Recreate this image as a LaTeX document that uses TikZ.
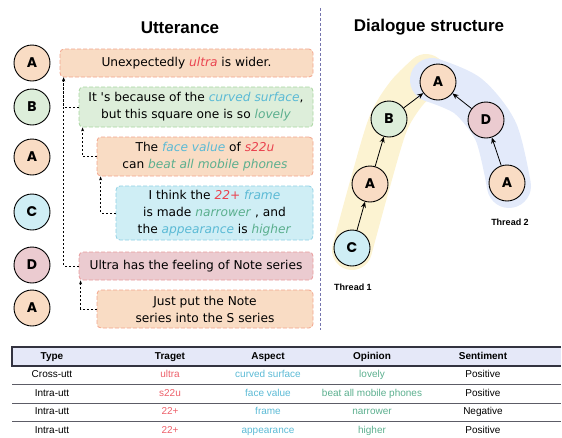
\documentclass[tikz,border=0pt]{standalone}
\usepackage{fontspec}
\setmainfont{Liberation Sans}
\newfontfamily\uttfont{DejaVu Sans}
\newfontfamily\spkfont{Poppins}
\usetikzlibrary{positioning,arrows.meta}
\definecolor{peach}{HTML}{F9DCC4}
\definecolor{peachline}{HTML}{F2A48C}
\definecolor{mint}{HTML}{DDEEDA}
\definecolor{mintline}{HTML}{A8D6A0}
\definecolor{sky}{HTML}{CFEEF5}
\definecolor{skyline}{HTML}{8FD0E4}
\definecolor{rose}{HTML}{EBCBD0}
\definecolor{roseline}{HTML}{E99C9C}
\definecolor{tgtred}{HTML}{EA4450}
\definecolor{aspblue}{HTML}{5BBAD5}
\definecolor{opngreen}{HTML}{5BAF8E}
\definecolor{divline}{HTML}{7474AE}
\definecolor{yband}{HTML}{FCF3D2}
\definecolor{bband}{HTML}{E3EAFA}
\definecolor{hdr}{HTML}{E5E8F8}
\definecolor{tabline}{HTML}{333340}
\newcommand{\tgtword}[1]{\textcolor{tgtred}{\textit{#1}}}
\newcommand{\aspword}[1]{\textcolor{aspblue}{\textit{#1}}}
\newcommand{\opnword}[1]{\textcolor{opngreen}{\textit{#1}}}
\begin{document}
\begin{tikzpicture}[x=1pt,y=-1pt,
  spk/.style={circle,draw=black,line width=0.9pt,minimum size=36pt,inner sep=0pt,
    font=\spkfont\bfseries\fontsize{14}{14}\selectfont},
  utt/.style={rounded corners=4pt,line width=0.8pt,dash pattern=on 4pt off 2pt,
    align=center,inner sep=0pt,font=\uttfont\fontsize{12.2}{17}\selectfont},
  reply/.style={dash pattern=on 2pt off 2pt,line width=0.7pt,-{Stealth[length=4pt,width=3pt]}},
  post/.style={line width=0.8pt,-{Stealth[length=6pt,width=5pt]}},
  title/.style={font=\bfseries\fontsize{17}{17}\selectfont},
  cell/.style={text height=7pt,text depth=2pt,font=\fontsize{10}{10}\selectfont},
  head/.style={text height=7pt,text depth=2pt,font=\bfseries\fontsize{10}{10}\selectfont}]
\useasboundingbox (0,0) rectangle (562,437);

\node[title] (utitle) at (180,28) {Utterance};
\node[title] (dtitle) at (429,27) {Dialogue structure};
\draw[divline,line width=0.8pt,dash pattern=on 3pt off 2pt] (320,8) -- (320,330);

\node[spk,fill=peach] (s1) at (32,63) {A};
\node[spk,fill=mint] (s2) at (32,107) {B};
\node[spk,fill=peach] (s3) at (32,157) {A};
\node[spk,fill=sky] (s4) at (32,212) {C};
\node[spk,fill=rose] (s5) at (32,265) {D};
\node[spk,fill=peach] (s6) at (32,308) {A};

\node[utt,fill=peach,draw=peachline,minimum width=253pt,minimum height=28pt] (u1) at (186.5,63)
  {Unexpectedly \tgtword{ultra} is wider.};
\node[utt,fill=mint,draw=mintline,minimum width=234pt,minimum height=40pt] (u2) at (196,107)
  {It 's because of the \aspword{curved surface},\\but this square one is so \opnword{lovely}};
\node[utt,fill=peach,draw=peachline,minimum width=216pt,minimum height=39pt] (u3) at (205,156.5)
  {The \aspword{face value} of \tgtword{s22u}\\can \opnword{beat all mobile phones}};
\node[utt,fill=sky,draw=skyline,minimum width=197pt,minimum height=54pt] (u4) at (214.5,213)
  {I think the \tgtword{22+} \aspword{frame}\\is made \opnword{narrower} , and\\the \aspword{appearance} is \opnword{higher}};
\node[utt,fill=rose,draw=roseline,minimum width=234pt,minimum height=28pt] (u5) at (196,266)
  {Ultra has the feeling of Note series};
\node[utt,fill=peach,draw=peachline,minimum width=216pt,minimum height=38pt] (u6) at (205,309)
  {Just put the Note\\series into the S series};

\draw[reply] (u2.west) -| ([xshift=4pt]u1.south west);
\draw[reply] (u5.west) -| ([xshift=4pt]u1.south west);
\draw[reply] (u3.west) -| ([xshift=4pt]u2.south west);
\draw[reply] (u4.west) -| ([xshift=4pt]u3.south west);
\draw[reply] (u6.west) -| ([xshift=2pt]u5.south west);

\draw[yband,line width=40pt,line cap=round,line join=round]
  plot[smooth] coordinates {(352,250) (370,184) (388,124) (406,94) (426,74)};
\draw[bband,line width=44pt,line cap=round,line join=round]
  plot[smooth] coordinates {(432,80) (468,96) (496,132) (509,186)};

\node[spk,fill=peach] (ta) at (438,82) {A};
\node[spk,fill=mint] (tb) at (389,119) {B};
\node[spk,fill=peach] (tam) at (370,184) {A};
\node[spk,fill=sky] (tc) at (352,248) {C};
\node[spk,fill=rose] (td) at (486,120) {D};
\node[spk,fill=peach] (tar) at (507,183) {A};

\draw[post] (tc) -- (tam);
\draw[post] (tam) -- (tb);
\draw[post] (tb) -- (ta);
\draw[post] (tar) -- (td);
\draw[post] (td) -- (ta);

\node[font=\bfseries\fontsize{9}{9}\selectfont] (th1) at (353,287) {Thread 1};
\node[font=\bfseries\fontsize{9}{9}\selectfont] (th2) at (510,222) {Thread 2};

\fill[hdr] (12,347) rectangle (561,366);
\draw[tabline,line width=1.2pt] (561,347) -- (12,347) -- (12,366) -- (561,366);
\foreach \y in {384,403,421}
  \draw[tabline!80,line width=0.9pt] (12,\y) -- (561,\y);

\node[head] (h1) at (52,356.5) {Type};
\node[head] (h2) at (170,356.5) {Traget};
\node[head] (h3) at (268,356.5) {Aspect};
\node[head] (h4) at (372,356.5) {Opinion};
\node[head] (h5) at (483,356.5) {Sentiment};

\foreach \ty/\tg/\as/\op/\se [count=\r] in {Cross-utt/ultra/curved surface/lovely/Positive,
    Intra-utt/s22u/face value/beat all mobile phones/Positive,
    Intra-utt/22+/frame/narrower/Negative,
    Intra-utt/22+/appearance/higher/Positive} {
  \node[cell] (ty\r) at (52,356.5+18.5*\r) {\ty};
  \node[cell,text=tgtred!85] (tg\r) at (170,356.5+18.5*\r) {\tg};
  \node[cell,text=aspblue] (as\r) at (268,356.5+18.5*\r) {\as};
  \node[cell,text=opngreen] (op\r) at (372,356.5+18.5*\r) {\op};
  \node[cell] (se\r) at (483,356.5+18.5*\r) {\se};
}
\end{tikzpicture}
\end{document}
